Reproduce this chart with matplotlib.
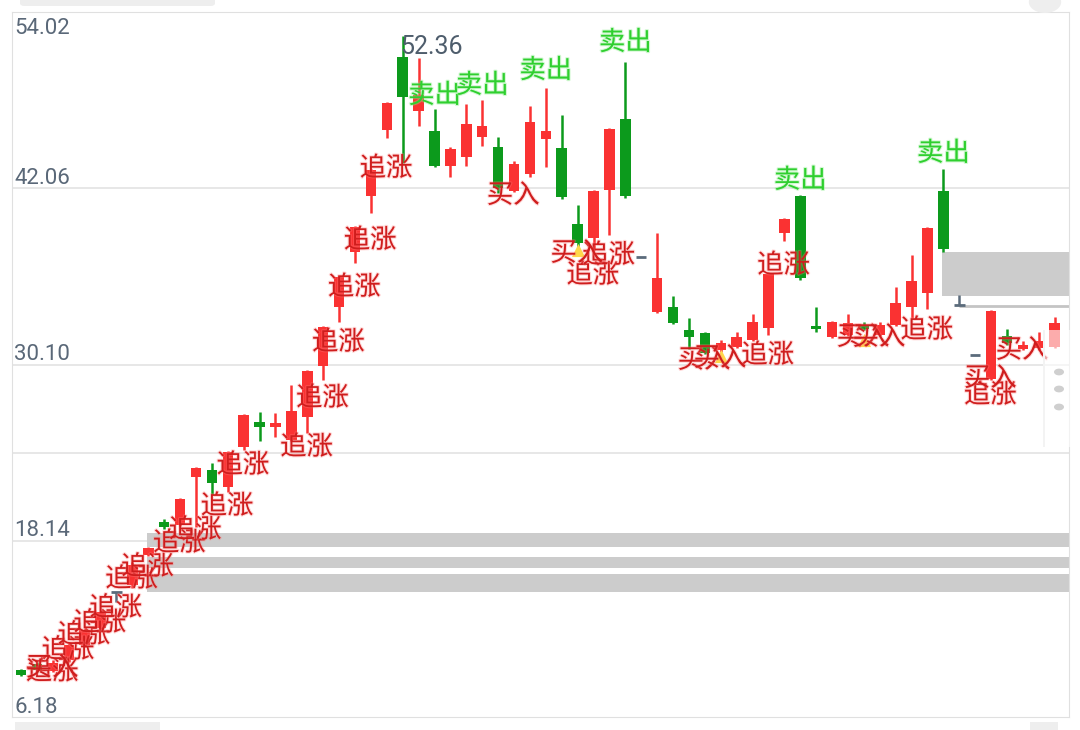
import matplotlib
matplotlib.use("Agg")
import matplotlib.pyplot as plt
import matplotlib.patheffects as pe
import matplotlib.transforms as mtrans
from matplotlib.patches import Rectangle, FancyBboxPatch, Circle
import numpy as np

plt.rcParams['font.family'] = ['Noto Sans CJK SC', 'DejaVu Sans']

# daily candles
opens = [9.37, 9.78, 9.31, 10.05, 11.07, 12.22, 14.66, 15.14, 17.17, 19.41,
         19.20, 22.46, 22.93, 21.78, 24.49, 26.19, 25.85, 24.97, 26.53, 29.99,
         33.99, 37.71, 41.51, 45.99, 50.94, 47.27, 45.92, 43.55, 44.16, 45.51,
         44.83, 41.85, 43.00, 45.38, 44.77, 39.61, 38.66, 41.92, 46.73, 37.38,
         33.65, 33.99, 32.43, 32.22, 31.07, 31.27, 31.75, 32.56, 39.00, 41.51,
         32.70, 31.95, 32.09, 32.76, 32.09, 32.76, 33.99, 34.93, 41.85, 34.12,
         30.73, 29.10, 32.02, 31.14, 31.21, 31.27]
closes = [9.04, 9.37, 9.85, 11.07, 12.09, 13.31, 14.66, 16.49, 17.65, 19.07,
          20.97, 23.07, 22.05, 24.15, 26.66, 25.85, 26.12, 26.93, 29.65, 32.63,
          36.02, 39.41, 43.27, 47.82, 48.22, 48.36, 43.55, 44.70, 46.39, 46.26,
          42.05, 43.68, 46.53, 45.92, 41.44, 38.33, 41.85, 46.05, 41.51, 37.38,
          35.95, 32.90, 31.95, 30.87, 31.54, 31.95, 32.97, 36.22, 39.95, 35.95,
          32.49, 32.97, 32.90, 32.49, 32.76, 34.26, 35.75, 39.34, 37.92, 34.12,
          30.73, 33.71, 31.54, 31.41, 31.68, 32.90]
highs = [9.44, 9.92, 10.05, 11.20, 12.22, 13.44, 14.66, 16.70, 17.71, 19.61,
         21.04, 23.14, 23.41, 24.22, 26.73, 26.87, 26.80, 28.70, 29.71, 32.70,
         36.09, 39.48, 43.34, 47.88, 52.36, 50.87, 47.41, 44.83, 47.75, 48.02,
         45.51, 43.88, 47.61, 48.83, 47.00, 40.90, 41.92, 46.12, 50.66, 37.38,
         39.00, 34.73, 33.24, 32.29, 31.75, 32.29, 33.51, 36.29, 40.02, 41.58,
         33.99, 33.04, 33.51, 32.97, 32.97, 35.34, 37.51, 39.41, 43.34, 34.80,
         30.73, 33.78, 32.49, 31.68, 32.29, 33.31]
lows = [8.97, 9.24, 9.24, 9.92, 10.93, 12.09, 13.98, 14.93, 17.10, 18.93,
        19.14, 19.07, 21.24, 21.44, 24.29, 24.90, 25.17, 24.90, 25.44, 29.04,
        32.97, 36.97, 40.36, 45.44, 43.75, 46.26, 43.48, 42.80, 43.55, 44.90,
        41.71, 41.78, 42.80, 43.48, 41.31, 37.85, 37.85, 38.87, 41.38, 37.38,
        33.58, 32.83, 31.14, 30.80, 30.93, 31.21, 31.68, 32.09, 38.46, 35.82,
        32.29, 31.88, 32.02, 32.43, 32.02, 32.70, 33.24, 33.85, 37.71, 34.12,
        30.73, 29.04, 31.41, 31.07, 31.07, 31.21]

# signal labels: candle index, price, text
chase_idx = [1, 2, 3, 4, 5, 6, 7, 9, 10, 12, 13, 17, 18, 19, 20, 21, 22, 35, 36, 46, 47, 56, 60]
chase_price = [9.24, 10.73, 11.75, 12.56, 13.58, 15.54, 16.36, 17.98, 18.87, 20.49,
               23.27, 24.49, 27.82, 31.61, 35.34, 38.53, 43.41, 36.16, 37.51, 30.73,
               36.83, 32.43, 28.02]
buy_idx = [1, 30, 34, 42, 43, 52, 53, 60, 62]
buy_price = [9.51, 41.58, 37.65, 30.39, 30.53, 31.95, 31.95, 29.16, 31.07]
sell_idx = [26, 29, 33, 38, 49, 58]
sell_price = [48.36, 49.04, 50.05, 51.95, 42.60, 44.43]
tri_idx = [35, 44, 53]
tri_price = [37.85, 30.66, 31.75]

# grey zones (low, high, start index)
zone_low = [17.71, 16.29, 14.66, 34.73]
zone_high = [18.66, 17.04, 15.88, 37.71]
zone_start = [8, 8, 8, 58]

y_ticks = [54.02, 42.06, 30.10, 18.14, 6.18]
max_label = "52.36"

RED = '#fa3232'
GREEN = '#0c9a1c'
FLAT = '#5b6b7b'

fig = plt.figure(figsize=(10.8, 7.3), dpi=100)
ax = fig.add_axes([12/1080, 13/730, 1057/1080, 705/730])
ax.set_xlim(-0.57, 65.9)
ax.set_ylim(6.18, 54.02)

for t in y_ticks[1:4]:
    ax.axhline(t, color='#e3e3e3', lw=1.2, zorder=0)
ax.axhline((y_ticks[2] + y_ticks[3]) / 2, color='#e3e3e3', lw=1.2, zorder=0)

for s in ax.spines.values():
    s.set_color('#e0e0e0')
ax.set_xticks([])
ax.set_yticks([])

# zones
for lo, hi, st in zip(zone_low, zone_high, zone_start):
    ax.add_patch(Rectangle((st - 0.1, lo), 70, hi - lo, color='#cccccc', lw=0, zorder=1))
ax.hlines(highs[59] - 0.7, 59, 70, color='#c4c4c4', lw=2, zorder=1)

idx = np.arange(len(opens))
o = np.array(opens)
c = np.array(closes)
cols = [RED if c[i] > o[i] else (GREEN if c[i] < o[i] else FLAT) for i in idx]

ax.vlines(idx, lows, highs, colors=cols, lw=1.8, zorder=2)
body_lo = np.minimum(o, c)
body_h = np.abs(c - o)
ax.bar(idx, body_h, bottom=body_lo, width=0.66, color=cols, zorder=2)
flat = [i for i in idx if c[i] == o[i]]
ax.hlines([o[i] for i in flat], [i - 0.33 for i in flat], [i + 0.33 for i in flat],
          colors=FLAT, lw=2, zorder=2)

# yellow buy markers
ax.scatter(tri_idx, tri_price, marker='^', s=90, color='#ffd84a', zorder=3, lw=0)

red_fx = [pe.withStroke(linewidth=1.6, foreground='#ff8080', alpha=0.3)]
green_fx = [pe.withStroke(linewidth=1.6, foreground='#90ee90', alpha=0.4)]
for i, p in zip(chase_idx, chase_price):
    ax.text(i + 0.95, p, '追涨', color='#cf1d1d', fontsize=19, ha='center', va='center',
            zorder=4, path_effects=red_fx)
for i, p in zip(buy_idx, buy_price):
    ax.text(i + 0.95, p, '买入', color='#cf1d1d', fontsize=19, ha='center', va='center',
            zorder=4, path_effects=red_fx)
for i, p in zip(sell_idx, sell_price):
    ax.text(i, p, '卖出', color='#2fcf2f', fontsize=19, ha='center', va='center',
            zorder=4, path_effects=green_fx)

# max price tag
imax = int(np.argmax(highs))
ax.text(imax - 0.15, highs[imax] + 0.1, max_label, color='#4e5d6c', fontsize=18, family='Roboto',
        ha='left', va='top', zorder=4)

# price labels
tr = mtrans.blended_transform_factory(ax.transAxes, ax.transData)
for k, t in enumerate(y_ticks):
    ax.text(0.002, t - (0.4 if k == 0 else 0.05), '%.2f' % t, transform=tr, color='#5a6878',
            fontsize=16, family='Roboto', ha='left', va='top' if k == 0 else 'bottom', zorder=4)

# app chrome around the chart
fig.patches.append(FancyBboxPatch((20/1080, 724/730), 195/1080, 10/730, boxstyle='round,pad=0,rounding_size=0.004',
                                  transform=fig.transFigure, color='#eeeeee', lw=0))
fig.patches.append(Circle((1045/1080, 728/730), 0.015, transform=fig.transFigure, color='#eeeeee', lw=0))
fig.patches.append(Rectangle((15/1080, 0), 145/1080, 8/730, transform=fig.transFigure, color='#eeeeee', lw=0))
fig.patches.append(Rectangle((1030/1080, 0), 28/1080, 8/730, transform=fig.transFigure, color='#eeeeee', lw=0))
fig.patches.append(Rectangle((1045/1080, 283/730), 40/1080, 117/730, transform=fig.transFigure,
                             color='white', alpha=0.6, lw=0, zorder=10))
fig.patches.append(Rectangle((1043/1080, 283/730), 2/1080, 117/730, transform=fig.transFigure,
                             color='#f3f3f3', lw=0, zorder=10))
for yy in [372, 389, 407]:
    fig.patches.append(Circle((1059/1080, (730 - yy)/730), 5/1080, transform=fig.transFigure,
                              color='#cfcfcf', lw=0, zorder=11))

fig.savefig('out.png', dpi=100)
